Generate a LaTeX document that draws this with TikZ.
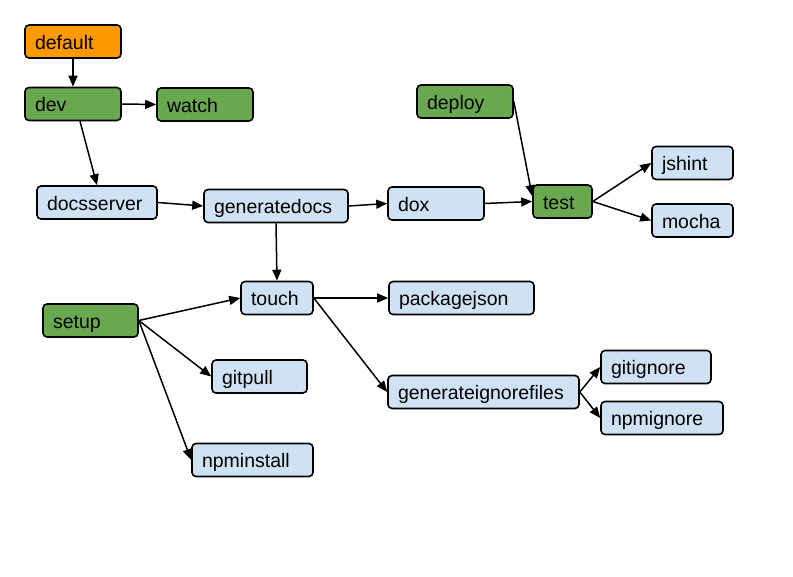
\documentclass[tikz,border=0pt]{standalone}
\usepackage{fontspec}
\setmainfont{Liberation Sans}
\usetikzlibrary{arrows.meta}
\definecolor{orangebox}{HTML}{FF9900}
\definecolor{greenbox}{HTML}{6AA84F}
\definecolor{bluebox}{HTML}{CFE2F3}
\tikzset{
	task/.style={draw=black, line width=1.6pt, rounded corners=4pt, minimum height=33pt, inner xsep=10pt, text height=15.5pt, text depth=0pt, align=left, font=\fontsize{19.5}{21}\selectfont},
	maintask/.style={task, fill=orangebox},
	grouptask/.style={task, fill=greenbox},
	subtask/.style={task, fill=bluebox},
	dep/.style={line width=1.5pt, -{Triangle[length=11pt, width=9pt]}}
}

\begin{document}
\begin{tikzpicture}[x=1pt, y=-1pt]
		%%%%% START %%%%%
		\useasboundingbox (0, 0) rectangle (793, 577);
		
		\node[maintask, text width=76pt] (default) at (73, 41.5) {default};
		\node[grouptask, text width=76pt] (dev) at (73, 104) {dev};
		\node[grouptask, text width=76pt] (watch) at (205, 104.5) {watch};
		\node[subtask, text width=100pt] (docsserver) at (97, 202.5) {docsserver};
		\node[subtask, text width=124pt] (generatedocs) at (276, 206) {generatedocs};
		\node[subtask, text width=76pt] (dox) at (436, 203.5) {dox};
		\node[grouptask, text width=76pt] (deploy) at (465, 101.5) {deploy};
		\node[grouptask, text width=39pt] (test) at (562.5, 201.5) {test};
		\node[subtask, text width=61pt] (jshint) at (692.5, 163) {jshint};
		\node[subtask, text width=61pt] (mocha) at (692.5, 220.5) {mocha};
		
		\node[subtask, text width=52pt] (touch) at (277, 298) {touch};
		\node[subtask, text width=125pt] (packagejson) at (461.5, 298) {packagejson};
		\node[grouptask, text width=75pt] (setup) at (90.5, 320.5) {setup};
		\node[subtask, text width=75pt] (gitpull) at (259.5, 376.5) {gitpull};
		\node[subtask, text width=101pt] (npminstall) at (252.5, 460) {npminstall};
		\node[subtask, text width=171pt] (generateignorefiles) at (483.5, 392) {generateignorefiles};
		\node[subtask, text width=90pt] (gitignore) at (656, 367) {gitignore};
		\node[subtask, text width=102pt] (npmignore) at (662, 418) {npmignore};
		
		\draw[dep] (default.south) -- (dev.north);
		\draw[dep] (dev.east) -- (watch.west);
		\draw[dep] (dev.-68) -- (docsserver.north);
		\draw[dep] (docsserver.east) -- (generatedocs.west);
		\draw[dep] (generatedocs.east) -- (dox.west);
		\draw[dep] (generatedocs.south) -- (touch.north);
		\draw[dep] (dox.east) -- (test.west);
		\draw[dep] (deploy.east) -- (test.170);
		\draw[dep] (test.east) -- (jshint.west);
		\draw[dep] (test.east) -- (mocha.west);
		
		\draw[dep] (setup.east) -- (touch.west);
		\draw[dep] (setup.east) -- (gitpull.west);
		\draw[dep] (setup.east) -- (npminstall.west);
		\draw[dep] (touch.east) -- (packagejson.west);
		\draw[dep] (touch.east) -- (generateignorefiles.west);
		\draw[dep] (generateignorefiles.east) -- (gitignore.west);
		\draw[dep] (generateignorefiles.east) -- (npmignore.west);
		
		%%%%% END %%%%%
	\end{tikzpicture}
\end{document}
